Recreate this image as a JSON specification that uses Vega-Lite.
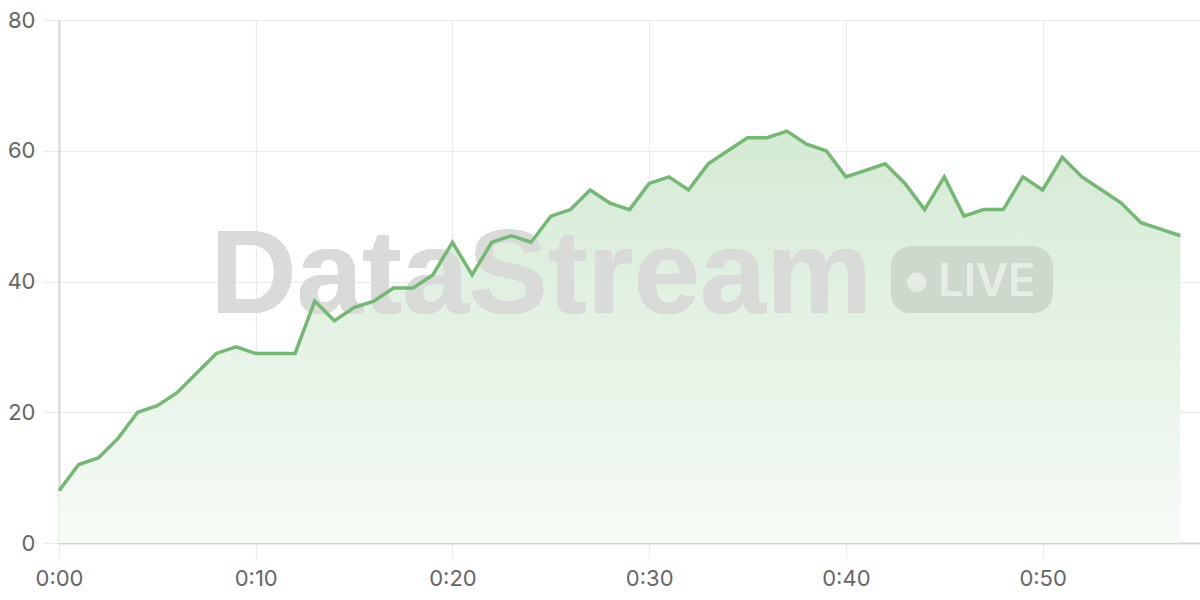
{
  "$schema": "https://vega.github.io/schema/vega-lite/v6.json",
  "autosize": "none",
  "width": 1141,
  "height": 523,
  "padding": {"left": 59, "top": 20, "right": 0, "bottom": 57},
  "background": "white",
  "config": {
    "view": {"stroke": null},
    "axis": {
      "labelFont": "Inter",
      "labelFontSize": 22,
      "labelColor": "#666666",
      "gridColor": "#ebebeb",
      "gridWidth": 1.2,
      "tickColor": "#ebebeb",
      "tickWidth": 1.2,
      "domainColor": "#d4d4d4",
      "domainWidth": 2,
      "titleFontSize": 0
    }
  },
  "data": {
    "values": [
      {"t": 0, "v": 8}, {"t": 1, "v": 12}, {"t": 2, "v": 13}, {"t": 3, "v": 16},
      {"t": 4, "v": 20}, {"t": 5, "v": 21}, {"t": 6, "v": 23}, {"t": 7, "v": 26},
      {"t": 8, "v": 29}, {"t": 9, "v": 30}, {"t": 10, "v": 29}, {"t": 11, "v": 29},
      {"t": 12, "v": 29}, {"t": 13, "v": 37}, {"t": 14, "v": 34}, {"t": 15, "v": 36},
      {"t": 16, "v": 37}, {"t": 17, "v": 39}, {"t": 18, "v": 39}, {"t": 19, "v": 41},
      {"t": 20, "v": 46}, {"t": 21, "v": 41}, {"t": 22, "v": 46}, {"t": 23, "v": 47},
      {"t": 24, "v": 46}, {"t": 25, "v": 50}, {"t": 26, "v": 51}, {"t": 27, "v": 54},
      {"t": 28, "v": 52}, {"t": 29, "v": 51}, {"t": 30, "v": 55}, {"t": 31, "v": 56},
      {"t": 32, "v": 54}, {"t": 33, "v": 58}, {"t": 34, "v": 60}, {"t": 35, "v": 62},
      {"t": 36, "v": 62}, {"t": 37, "v": 63}, {"t": 38, "v": 61}, {"t": 39, "v": 60},
      {"t": 40, "v": 56}, {"t": 41, "v": 57}, {"t": 42, "v": 58}, {"t": 43, "v": 55},
      {"t": 44, "v": 51}, {"t": 45, "v": 56}, {"t": 46, "v": 50}, {"t": 47, "v": 51},
      {"t": 48, "v": 51}, {"t": 49, "v": 56}, {"t": 50, "v": 54}, {"t": 51, "v": 59},
      {"t": 52, "v": 56}, {"t": 53, "v": 54}, {"t": 54, "v": 52}, {"t": 55, "v": 49},
      {"t": 56, "v": 48}, {"t": 57, "v": 47}
    ]
  },
  "layer": [
    {
      "mark": {
        "type": "area",
        "fill": {
          "gradient": "linear",
          "x1": 0, "y1": 0, "x2": 0, "y2": 1,
          "stops": [
            {"offset": 0, "color": "#d4ead4"},
            {"offset": 1, "color": "#f6fbf6"}
          ]
        },
        "stroke": null
      },
      "encoding": {
        "x": {
          "field": "t", "type": "quantitative",
          "scale": {"domain": [0, 58], "nice": false, "zero": false},
          "axis": {
            "title": null,
            "values": [0, 10, 20, 30, 40, 50],
            "labelExpr": "'0:' + (datum.value < 10 ? '0' : '') + datum.value",
            "tickSize": 15,
            "labelPadding": 10,
            "labelFlush": false
          }
        },
        "y": {
          "field": "v", "type": "quantitative",
          "scale": {"domain": [0, 80], "nice": false},
          "axis": {
            "title": null,
            "values": [0, 20, 40, 60, 80],
            "tickSize": 16,
            "labelPadding": 8,
            "labelFlush": false
          }
        }
      }
    },
    {
      "mark": {"type": "rect", "cornerRadius": 20, "color": "#cdd9cd"},
      "encoding": {
        "x": {"datum": 42.3, "type": "quantitative"},
        "x2": {"datum": 50.5},
        "y": {"datum": 45.3, "type": "quantitative"},
        "y2": {"datum": 35.2}
      }
    },
    {
      "mark": {
        "type": "text", "text": "DataStream", "font": "Liberation Sans",
        "fontWeight": "bold", "fontSize": 119, "align": "left", "baseline": "alphabetic",
        "color": "#d8dbd8"
      },
      "encoding": {
        "x": {"datum": 7.7, "type": "quantitative"},
        "y": {"datum": 35.2, "type": "quantitative"}
      }
    },
    {
      "mark": {"type": "point", "filled": true, "shape": "circle", "size": 330, "fill": "#e6ede6", "stroke": "#e6ede6", "strokeWidth": 1},
      "encoding": {
        "x": {"datum": 43.6, "type": "quantitative"},
        "y": {"datum": 39.9, "type": "quantitative"}
      }
    },
    {
      "mark": {
        "type": "text", "text": "LIVE", "font": "Inter",
        "fontWeight": 500, "fontSize": 45, "align": "left", "baseline": "alphabetic",
        "color": "#e6ede6"
      },
      "encoding": {
        "x": {"datum": 44.7, "type": "quantitative"},
        "y": {"datum": 37.8, "type": "quantitative"}
      }
    },
    {
      "mark": {"type": "line", "color": "#73b873", "strokeWidth": 3.5, "strokeJoin": "miter"},
      "encoding": {
        "x": {"field": "t", "type": "quantitative"},
        "y": {"field": "v", "type": "quantitative"}
      }
    }
  ]
}
